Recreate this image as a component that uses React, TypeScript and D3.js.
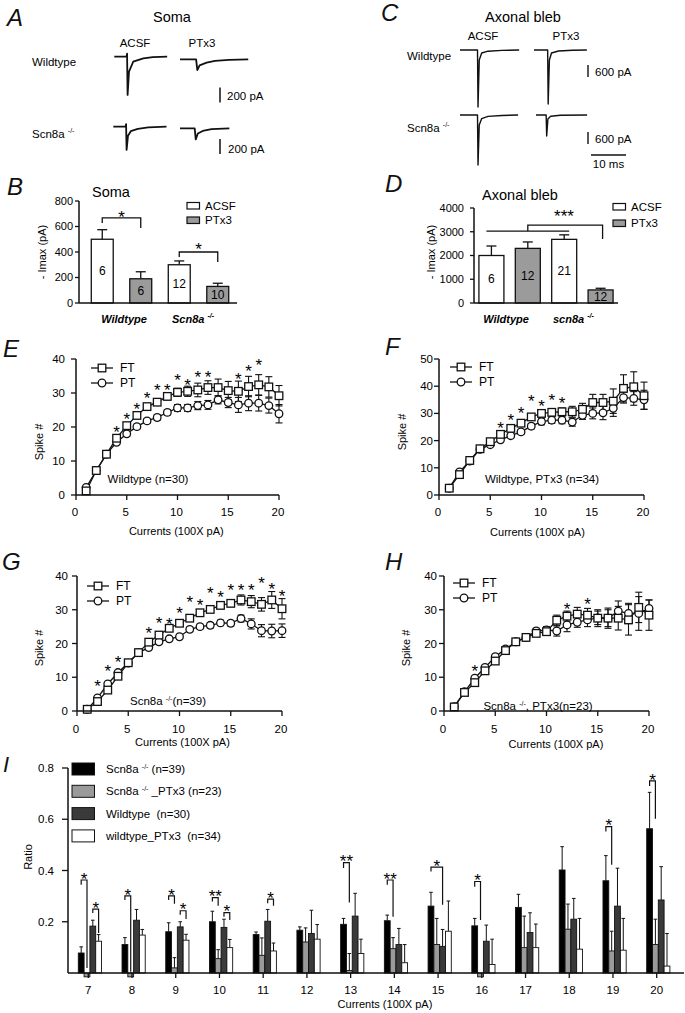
import React from 'react';
import * as d3 from 'd3';

const FONT = '"Liberation Sans", Arial, Helvetica, sans-serif';
const INK = '#111';

type Pt = [number, number];

// ---------- Panel A: somatic Na currents (time ms, current pA) ----------
const somaWtAcsf: Pt[] = [[0, 0], [3.5, 0], [3.65, 40], [3.8, -510], [4.2, -200], [5.4, -67], [8.3, -22], [11, -5], [15.1, 0]];
const somaWtPtx: Pt[] = [[0, 0], [4.6, 0], [4.95, -143], [5.6, -80], [7.6, -45], [10, -20], [14, -8], [19.5, 0]];
const somaKoAcsf: Pt[] = [[0, 0], [3.5, 0], [3.65, 35], [3.8, -310], [4.2, -120], [5, -60], [7, -30], [10, -10], [15.2, 0]];
const somaKoPtx: Pt[] = [[0, 0], [4.2, 0], [4.5, -147], [5.1, -70], [6.5, -35], [9, -12], [14.1, 0]];

// ---------- Panel C: axonal bleb currents ----------
const blebWtAcsf: Pt[] = [[0, 0], [5, 0], [5.15, -2850], [5.5, -500], [6.2, -150], [8, -60], [12, -20], [16.9, 0]];
const blebWtPtx: Pt[] = [[0, 0], [3.9, 0], [4.05, -2700], [4.4, -500], [5, -150], [7, -50], [11, -15], [15.1, 0]];
const blebKoAcsf: Pt[] = [[0, 0], [5, 0], [5.15, -2500], [5.5, -500], [6.2, -180], [8, -70], [12, -25], [16.6, 0]];
const blebKoPtx: Pt[] = [[0, 0], [2.9, 0], [3.05, -1050], [3.4, -200], [4.2, -60], [7, -15], [14.6, 0]];

// ---------- Panels B / D ----------
const barKeys = ['WT-ACSF', 'WT-PTx3', 'KO-ACSF', 'KO-PTx3'];
const barFills = ['#ffffff', '#9b9b9b', '#ffffff', '#9b9b9b'];
const somaImax = [500, 190, 300, 130];
const somaImaxErr = [75, 55, 30, 25];
const somaN = ['6', '6', '12', '10'];
const somaTicks = [0, 200, 400, 600, 800];
const blebImax = [2000, 2300, 2680, 550];
const blebImaxErr = [400, 270, 190, 70];
const blebN = ['6', '12', '21', '12'];
const blebTicks = [0, 1000, 2000, 3000, 4000];

// ---------- Panels E-H ----------
const currentSteps = [1, 2, 3, 4, 5, 6, 7, 8, 9, 10, 11, 12, 13, 14, 15, 16, 17, 18, 19, 20];
const currentTicks = [0, 5, 10, 15, 20];

const eFT = [1.2, 7.2, 12, 16.7, 20.4, 23.4, 26, 27.3, 29, 30.2, 30.5, 30.9, 31.6, 31.6, 30.7, 30.5, 31.9, 32.4, 31.8, 29.2];
const eFTErr = [0.3, 0.5, 0.5, 0.8, 0.8, 0.8, 0.8, 0.9, 1, 1.2, 1.5, 2, 2, 2.5, 2.7, 3, 3, 3, 3, 3];
const ePT = [2.2, 7.2, 12, 15.5, 18, 20.1, 21.8, 22.8, 24.3, 25.6, 25.6, 26.3, 26.5, 28, 27.2, 26.5, 27, 27, 26.3, 23.9];
const ePTErr = [0.3, 0.4, 0.5, 0.6, 0.7, 0.7, 0.7, 0.8, 0.8, 1, 1, 1.2, 1.3, 1.2, 1.5, 2.2, 2.2, 2.3, 2.2, 2.7];
const eStars: Pt[] = [[4, 19.7], [5, 23.4], [6, 26.5], [7, 29.7], [8, 31.9], [9, 31.9], [10, 35], [11, 33.4], [12, 35.9], [13, 35.9], [16, 35.2], [17, 37.6], [18, 39.3]];

const fFT = [2.5, 7.5, 12.7, 17, 19.6, 22.3, 24.5, 26.4, 28.7, 30, 30.4, 30.6, 30.6, 31.5, 34, 34, 34.5, 39.2, 39.8, 36.5];
const fFTErr = [0.4, 0.5, 0.6, 0.7, 0.8, 0.8, 0.9, 1, 1, 1.2, 1.3, 1.4, 2, 2.2, 3, 3, 4.5, 5, 5.5, 5];
const fPT = [2.5, 8.5, 12.5, 16.8, 18.5, 20.3, 21.8, 23.2, 25.3, 27, 27.5, 27.5, 26.8, 29.3, 30, 30.2, 31.9, 35.8, 35.5, 35];
const fPTErr = [0.4, 0.5, 0.6, 0.7, 0.7, 0.8, 0.8, 0.9, 1, 1.2, 1.2, 1.3, 1.5, 1.5, 2, 2.5, 3, 2, 2.5, 3.5];
const fStars: Pt[] = [[6, 26.1], [7, 28.8], [8, 31.5], [9, 35.8], [10, 33.9], [11, 36.4], [12, 35.2]];

const gFT = [0.5, 2.8, 6.2, 10.3, 14.3, 17.3, 20.4, 22.5, 24.5, 26, 27.5, 29.1, 30.1, 31.3, 31.9, 32.9, 32.4, 31.6, 32.9, 30.3];
const gFTErr = [0.2, 0.3, 0.4, 0.5, 0.6, 0.6, 0.7, 0.7, 0.7, 0.8, 0.8, 0.8, 0.9, 1, 1, 1.5, 1.8, 2, 2.5, 3];
const gPT = [0.5, 3.9, 8, 11.4, 14.2, 17.3, 18.8, 20.5, 21.4, 22, 24.2, 25, 25.4, 26.1, 26, 27.4, 25.8, 23.8, 23.7, 23.8];
const gPTErr = [0.2, 0.3, 0.4, 0.5, 0.5, 0.6, 0.6, 0.6, 0.6, 0.7, 0.7, 0.7, 0.8, 0.8, 0.8, 1, 1.5, 1.8, 2, 2];
const gStars: Pt[] = [[2, 8.4], [3, 12.8], [4, 15.6], [7, 24.3], [8, 27.3], [9, 27], [10, 30.2], [11, 33.4], [12, 32.4], [13, 36.1], [14, 34.9], [15, 36.8], [16, 36.8], [17, 36.8], [18, 39.1], [19, 37.3], [20, 35.2]];

const hFT = [1.2, 5.5, 8.4, 11.9, 14.8, 17.9, 20.5, 21.8, 23, 23.5, 26.9, 28.1, 28.7, 28.4, 27.5, 27.5, 27.5, 27, 30.7, 28.4];
const hFTErr = [0.3, 0.4, 0.5, 0.6, 0.7, 0.7, 0.7, 0.7, 0.8, 1, 1.5, 1.5, 2, 2, 2.5, 3, 3.5, 4.5, 4.5, 4.5];
const hPT = [1.3, 5.7, 9.7, 12.9, 16.1, 18.4, 20.5, 21.8, 23.7, 24, 23.7, 25.5, 26.3, 27, 27.6, 27.5, 29.6, 28.9, 28.9, 30.4];
const hPTErr = [0.3, 0.4, 0.5, 0.6, 0.7, 0.7, 0.7, 0.7, 0.8, 1, 1.5, 2, 1.5, 2, 2, 2.5, 3, 3, 5, 2.5];
const hStars: Pt[] = [[3, 12.9], [12, 31.4], [14, 32.9]];

// ---------- Panel I ----------
const ratioCategories = ['7', '8', '9', '10', '11', '12', '13', '14', '15', '16', '17', '18', '19', '20'];
const koRatio = [0.078, 0.111, 0.161, 0.2, 0.15, 0.167, 0.19, 0.204, 0.261, 0.184, 0.256, 0.402, 0.36, 0.563];
const koRatioErr = [0.024, 0.027, 0.035, 0.041, 0.01, 0.013, 0.023, 0.022, 0.054, 0.029, 0.051, 0.091, 0.098, 0.142];
const koPtxRatio = [-0.015, -0.015, 0.02, 0.056, 0.069, 0.121, 0.01, 0.095, 0.111, -0.015, 0.099, 0.171, 0.086, 0.111];
const koPtxRatioErr = [0, 0, 0.04, 0.035, 0.068, 0.055, 0.066, 0.043, 0.102, 0, 0.123, 0.098, 0.077, 0.099];
const wtRatio = [0.183, 0.206, 0.18, 0.178, 0.202, 0.154, 0.222, 0.111, 0.104, 0.124, 0.158, 0.21, 0.261, 0.285];
const wtRatioErr = [0.023, 0.042, 0.02, 0.032, 0.046, 0.091, 0.089, 0.063, 0.066, 0.063, 0.077, 0.081, 0.148, 0.13];
const wtPtxRatio = [0.124, 0.148, 0.128, 0.099, 0.086, 0.132, 0.076, 0.04, 0.163, 0.033, 0.099, 0.093, 0.089, 0.027];
const wtPtxRatioErr = [0.026, 0.022, 0.023, 0.032, 0.031, 0.057, 0.056, 0.071, 0.118, 0.099, 0.092, 0.12, 0.124, 0.127];
const ratioTicks = [0.2, 0.4, 0.6, 0.8];
const ratioFills = ['#000000', '#9a9a9a', '#3a3a3a', '#ffffff'];
const ratioBrackets = [
  { cat: '7', a: 0, b: 1, top: 0.363, left: 0.344, right: 0.02, mark: '*' },
  { cat: '7', a: 2, b: 3, top: 0.249, left: 0.234, right: 0.156, mark: '*' },
  { cat: '8', a: 0, b: 1, top: 0.301, left: 0.285, right: 0.005, mark: '*' },
  { cat: '9', a: 0, b: 1, top: 0.301, left: 0.285, right: 0.27, mark: '*' },
  { cat: '9', a: 2, b: 3, top: 0.243, left: 0.227, right: 0.211, mark: '*' },
  { cat: '10', a: 0, b: 1, top: 0.294, left: 0.279, right: 0.262, mark: '**' },
  { cat: '10', a: 2, b: 3, top: 0.236, left: 0.22, right: 0.207, mark: '*' },
  { cat: '11', a: 2, b: 3, top: 0.288, left: 0.272, right: 0.262, mark: '*' },
  { cat: '13', a: 0, b: 1, top: 0.431, left: 0.41, right: 0.275, mark: '**' },
  { cat: '14', a: 0, b: 1, top: 0.363, left: 0.344, right: 0.22, mark: '**' },
  { cat: '15', a: 0, b: 2, top: 0.413, left: 0.396, right: 0.266, mark: '*' },
  { cat: '16', a: 0, b: 1, top: 0.357, left: 0.337, right: 0.207, mark: '*' },
  { cat: '19', a: 0, b: 1, top: 0.571, left: 0.552, right: 0.422, mark: '*' },
  { cat: '20', a: 0, b: 1, top: 0.75, left: 0.73, right: 0.602, mark: '*' },
];

const STAR_FS = 17;
const starDy = STAR_FS * 0.57;

function Letter({ x, y, t, size = 24 }: { x: number; y: number; t: string; size?: number }) {
  return <text x={x} y={y} fontSize={size} fontStyle="italic" fill={INK}>{t}</text>;
}

function Sup({ t = '-/-', rise = 5, size = 7 }: { t?: string; rise?: number; size?: number }) {
  return <tspan fontSize={size} dy={-rise}>{t}</tspan>;
}

function Trace({ data, x0, y0, pxPerMs, pxPerPa, width }: { data: Pt[]; x0: number; y0: number; pxPerMs: number; pxPerPa: number; width: number }) {
  const xs = d3.scaleLinear().domain([0, 10]).range([x0, x0 + 10 * pxPerMs]);
  const ys = d3.scaleLinear().domain([0, -100]).range([y0, y0 + 100 * pxPerPa]);
  const path = d3.line<Pt>().x(d => xs(d[0])).y(d => ys(d[1]))(data) || '';
  return <path d={path} fill="none" stroke={INK} strokeWidth={width} strokeLinejoin="round" />;
}

function PanelA() {
  const pxPerMs = 3.5, pxPerPa = 0.075;
  const bar = d3.scaleLinear().domain([0, 200]).range([0, 200 * pxPerPa]);
  return (
    <g>
      <Letter x={7} y={26} t="A" />
      <text x={172} y={22} fontSize={14.5} textAnchor="middle">Soma</text>
      <text x={135} y={47} fontSize={11.5} textAnchor="middle">ACSF</text>
      <text x={202} y={47} fontSize={11.5} textAnchor="middle">PTx3</text>
      <text x={32} y={66} fontSize={11.5}>Wildtype</text>
      <text x={32} y={138} fontSize={11.5}>Scn8a <Sup /></text>
      <Trace data={somaWtAcsf} x0={114.3} y0={56.7} pxPerMs={pxPerMs} pxPerPa={pxPerPa} width={1.8} />
      <Trace data={somaWtPtx} x0={180} y0={59.3} pxPerMs={pxPerMs} pxPerPa={pxPerPa} width={1.8} />
      <Trace data={somaKoAcsf} x0={113.3} y0={126.7} pxPerMs={pxPerMs} pxPerPa={pxPerPa} width={1.8} />
      <Trace data={somaKoPtx} x0={180} y0={128.3} pxPerMs={pxPerMs} pxPerPa={pxPerPa} width={1.8} />
      <line x1={220} x2={220} y1={87.5} y2={87.5 + bar(200)} stroke={INK} strokeWidth={1.5} />
      <text x={227} y={100} fontSize={11.5}>200 pA</text>
      <line x1={220} x2={220} y1={139} y2={139 + bar(200)} stroke={INK} strokeWidth={1.5} />
      <text x={228} y={153} fontSize={11.5}>200 pA</text>
    </g>
  );
}

function PanelC() {
  const pxPerMs = 3.5, pxPerPa = 0.02;
  const vbar = d3.scaleLinear().domain([0, 600]).range([0, 600 * pxPerPa]);
  const hbar = d3.scaleLinear().domain([0, 10]).range([591, 591 + 10 * pxPerMs]);
  return (
    <g>
      <Letter x={381} y={21} t="C" />
      <text x={523} y={22} fontSize={14.5} textAnchor="middle">Axonal bleb</text>
      <text x={483} y={40} fontSize={11.5} textAnchor="middle">ACSF</text>
      <text x={566} y={40} fontSize={11.5} textAnchor="middle">PTx3</text>
      <text x={407} y={60} fontSize={11.5}>Wildtype</text>
      <text x={407} y={132} fontSize={11.5}>Scn8a <Sup /></text>
      <Trace data={blebWtAcsf} x0={460} y0={50} pxPerMs={pxPerMs} pxPerPa={pxPerPa} width={1.4} />
      <Trace data={blebWtPtx} x0={534} y0={50} pxPerMs={pxPerMs} pxPerPa={pxPerPa} width={1.4} />
      <Trace data={blebKoAcsf} x0={460} y0={115} pxPerMs={pxPerMs} pxPerPa={pxPerPa} width={1.4} />
      <Trace data={blebKoPtx} x0={536} y0={115} pxPerMs={pxPerMs} pxPerPa={pxPerPa} width={1.4} />
      <line x1={588} x2={588} y1={65} y2={65 + vbar(600)} stroke={INK} strokeWidth={1.4} />
      <text x={595} y={76} fontSize={11.5}>600 pA</text>
      <line x1={588} x2={588} y1={132} y2={132 + vbar(600)} stroke={INK} strokeWidth={1.4} />
      <text x={595} y={143} fontSize={11.5}>600 pA</text>
      <line x1={hbar(0)} x2={hbar(10)} y1={155} y2={155} stroke={INK} strokeWidth={1.3} />
      <text x={(hbar(0) + hbar(10)) / 2} y={168} fontSize={11.5} textAnchor="middle">10 ms</text>
    </g>
  );
}

type BarPanelProps = {
  axisX0: number; axisX1: number; range: [number, number]; inner: number; outer: number;
  yBottom: number; yTop: number; yMax: number; ticks: number[]; tickRight: number;
  values: number[]; errs: number[]; ns: string[];
  extras: (x: d3.ScaleBand<string>, y: d3.ScaleLinear<number, number>) => React.ReactNode;
};

function BarPanel(p: BarPanelProps) {
  const x = d3.scaleBand<string>().domain(barKeys).range(p.range).paddingInner(p.inner).paddingOuter(p.outer);
  const y = d3.scaleLinear().domain([0, p.yMax]).range([p.yBottom, p.yTop]);
  const bw = x.bandwidth();
  return (
    <g>
      {barKeys.map((k, i) => {
        const bx = x(k)!;
        const top = y(p.values[i]);
        const et = y(p.values[i] + p.errs[i]);
        const cx = bx + bw / 2;
        return (
          <g key={k}>
            <line x1={cx} x2={cx} y1={top} y2={et} stroke={INK} strokeWidth={1.3} />
            <line x1={cx - 5} x2={cx + 5} y1={et} y2={et} stroke={INK} strokeWidth={1.3} />
            <rect x={bx} y={top} width={bw} height={p.yBottom - top} fill={barFills[i]} stroke={INK} strokeWidth={1.3} />
            <text x={cx} y={(top + p.yBottom) / 2} dy="0.35em" fontSize={12} textAnchor="middle">{p.ns[i]}</text>
          </g>
        );
      })}
      <line x1={p.axisX0} x2={p.axisX0} y1={p.yBottom} y2={p.yTop} stroke={INK} strokeWidth={1.5} />
      <line x1={p.axisX0} x2={p.axisX1} y1={p.yBottom} y2={p.yBottom} stroke={INK} strokeWidth={1.5} />
      {p.ticks.map(t => (
        <g key={t}>
          <line x1={p.axisX0 - 4} x2={p.axisX0} y1={y(t)} y2={y(t)} stroke={INK} strokeWidth={1.3} />
          <text x={p.tickRight} y={y(t)} dy="0.35em" fontSize={11} textAnchor="end">{t}</text>
        </g>
      ))}
      {p.extras(x, y)}
    </g>
  );
}

function Legend2({ x, y1, y2 }: { x: number; y1: number; y2: number }) {
  return (
    <g fontSize={11.5}>
      <rect x={x} y={y1 - 3} width={12.5} height={6.5} fill="#fff" stroke={INK} strokeWidth={1.2} />
      <text x={x + 18} y={y1} dy="0.35em">ACSF</text>
      <rect x={x} y={y2 - 3} width={12.5} height={6.5} fill="#9b9b9b" stroke={INK} strokeWidth={1.2} />
      <text x={x + 18} y={y2} dy="0.35em">PTx3</text>
    </g>
  );
}

function PanelB() {
  return (
    <g>
      <Letter x={7} y={195} t="B" />
      <text x={111} y={197} fontSize={14.5} textAnchor="middle">Soma</text>
      <text transform="translate(46,252) rotate(-90)" fontSize={11} textAnchor="middle">- Imax (pA)</text>
      <BarPanel axisX0={79} axisX1={237} range={[81, 239]} inner={0.43} outer={0.267}
        yBottom={303} yTop={201} yMax={800} ticks={somaTicks} tickRight={73}
        values={somaImax} errs={somaImaxErr} ns={somaN}
        extras={(x, y) => {
          const c = (i: number) => x(barKeys[i])! + x.bandwidth() / 2;
          return (
            <g>
              <path d={`M${c(0)},${y(627)}V${y(667)}H${c(1)}V${y(588)}`} fill="none" stroke={INK} strokeWidth={1.3} />
              <text x={(c(0) + c(1)) / 2} y={y(706) + starDy} fontSize={STAR_FS} textAnchor="middle">*</text>
              <path d={`M${c(2)},${y(361)}V${y(400)}H${c(3)}V${y(322)}`} fill="none" stroke={INK} strokeWidth={1.3} />
              <text x={(c(2) + c(3)) / 2} y={y(455) + starDy} fontSize={STAR_FS} textAnchor="middle">*</text>
            </g>
          );
        }} />
      <Legend2 x={187} y1={205.5} y2={220} />
      <text x={124} y={323} fontSize={11} fontWeight="bold" fontStyle="italic" textAnchor="middle">Wildtype</text>
      <text x={172} y={323} fontSize={11} fontWeight="bold" fontStyle="italic">Scn8a <Sup /></text>
    </g>
  );
}

function PanelD() {
  return (
    <g>
      <Letter x={385} y={192} t="D" />
      <text x={520} y={200} fontSize={14.5} textAnchor="middle">Axonal bleb</text>
      <text transform="translate(435,252) rotate(-90)" fontSize={11} textAnchor="middle">- Imax (pA)</text>
      <BarPanel axisX0={474} axisX1={618} range={[474, 618]} inner={0.313} outer={0.135}
        yBottom={303} yTop={208} yMax={4000} ticks={blebTicks} tickRight={464}
        values={blebImax} errs={blebImaxErr} ns={blebN}
        extras={(x, y) => {
          const c = (i: number) => x(barKeys[i])! + x.bandwidth() / 2;
          return (
            <g>
              <line x1={c(0) - 5} x2={c(2) + 5} y1={y(3030)} y2={y(3030)} stroke={INK} strokeWidth={1.3} />
              <path d={`M${c(1)},${y(3030)}V${y(3280)}H${c(3) + 2}V${y(2700)}`} fill="none" stroke={INK} strokeWidth={1.3} />
              <text x={564} y={y(3830) + starDy} fontSize={STAR_FS} textAnchor="middle">***</text>
            </g>
          );
        }} />
      <Legend2 x={613} y1={206.5} y2={223} />
      <text x={506} y={323} fontSize={11} fontWeight="bold" fontStyle="italic" textAnchor="middle">Wildtype</text>
      <text x={553} y={323} fontSize={11} fontWeight="bold" fontStyle="italic">scn8a <Sup /></text>
    </g>
  );
}

type LineProps = {
  letter: string; letterX: number; letterY: number;
  x0: number; x1: number; yBottom: number; yTop: number; yMax: number; yTicks: number[];
  labelGap: number; xTickY: number; xTitleX: number; xTitleY: number; yTitleX: number; yTitleY: number;
  legendX: number; legendY1: number; legendY2: number;
  ft: number[]; ftErr: number[]; pt: number[]; ptErr: number[]; stars: Pt[];
  note: React.ReactNode; noteX: number; noteY: number;
};

function Square({ cx, cy }: { cx: number; cy: number }) {
  return <rect x={cx - 3.8} y={cy - 3.8} width={7.6} height={7.6} fill="#fff" stroke={INK} strokeWidth={1.3} />;
}
function Circle({ cx, cy }: { cx: number; cy: number }) {
  return <circle cx={cx} cy={cy} r={3.8} fill="#fff" stroke={INK} strokeWidth={1.3} />;
}

function LinePanel(p: LineProps) {
  const x = d3.scaleLinear().domain([0, 20]).range([p.x0, p.x1]);
  const y = d3.scaleLinear().domain([0, p.yMax]).range([p.yBottom, p.yTop]);
  const line = d3.line<number>().x((_, i) => x(currentSteps[i])).y(v => y(v));
  const errs = (vals: number[], es: number[], key: string) => vals.map((v, i) => {
    const cx = x(currentSteps[i]);
    const a = y(v - es[i]), b = y(v + es[i]);
    return (
      <g key={key + i} stroke={INK} strokeWidth={1.1}>
        <line x1={cx} x2={cx} y1={a} y2={b} />
        <line x1={cx - 3.5} x2={cx + 3.5} y1={a} y2={a} />
        <line x1={cx - 3.5} x2={cx + 3.5} y1={b} y2={b} />
      </g>
    );
  });
  return (
    <g>
      <Letter x={p.letterX} y={p.letterY} t={p.letter} />
      {errs(p.pt, p.ptErr, 'pe')}
      {errs(p.ft, p.ftErr, 'fe')}
      <path d={line(p.pt) || ''} fill="none" stroke={INK} strokeWidth={1.3} />
      <path d={line(p.ft) || ''} fill="none" stroke={INK} strokeWidth={1.3} />
      {p.pt.map((v, i) => <Circle key={'pc' + i} cx={x(currentSteps[i])} cy={y(v)} />)}
      {p.ft.map((v, i) => <Square key={'fs' + i} cx={x(currentSteps[i])} cy={y(v)} />)}
      {p.stars.map(([sx, sv], i) => (
        <text key={'st' + i} x={x(sx)} y={y(sv) + starDy} fontSize={STAR_FS} textAnchor="middle">*</text>
      ))}
      <line x1={p.x0} x2={p.x0} y1={p.yBottom} y2={p.yTop} stroke={INK} strokeWidth={1.5} />
      <line x1={p.x0} x2={p.x1} y1={p.yBottom} y2={p.yBottom} stroke={INK} strokeWidth={1.5} />
      {p.yTicks.map(t => (
        <g key={'yt' + t}>
          <line x1={p.x0 - 5} x2={p.x0} y1={y(t)} y2={y(t)} stroke={INK} strokeWidth={1.3} />
          <text x={p.x0 - p.labelGap} y={y(t)} dy="0.35em" fontSize={11.5} textAnchor="end">{t}</text>
        </g>
      ))}
      {currentTicks.map(t => (
        <g key={'xt' + t}>
          <line x1={x(t)} x2={x(t)} y1={p.yBottom} y2={p.yBottom + 5} stroke={INK} strokeWidth={1.3} />
          <text x={x(t) - 1} y={p.xTickY} dy="0.35em" fontSize={11.5} textAnchor="middle">{t}</text>
        </g>
      ))}
      <text x={p.xTitleX} y={p.xTitleY} dy="0.35em" fontSize={11} textAnchor="middle">Currents (100X pA)</text>
      <text transform={`translate(${p.yTitleX},${p.yTitleY}) rotate(-90)`} dy="0.35em" fontSize={11} textAnchor="middle">Spike #</text>
      <g>
        <line x1={p.legendX} x2={p.legendX + 22} y1={p.legendY1} y2={p.legendY1} stroke={INK} strokeWidth={1.3} />
        <Square cx={p.legendX + 11} cy={p.legendY1} />
        <text x={p.legendX + 29} y={p.legendY1} dy="0.35em" fontSize={12}>FT</text>
        <line x1={p.legendX} x2={p.legendX + 22} y1={p.legendY2} y2={p.legendY2} stroke={INK} strokeWidth={1.3} />
        <Circle cx={p.legendX + 11} cy={p.legendY2} />
        <text x={p.legendX + 29} y={p.legendY2} dy="0.35em" fontSize={12}>PT</text>
      </g>
      <text x={p.noteX} y={p.noteY + 4} fontSize={11.5} textAnchor="middle">{p.note}</text>
    </g>
  );
}

function PanelI() {
  const xp = d3.scalePoint<string>().domain(ratioCategories).range([88.3, 656.7]);
  const sub = d3.scaleBand<number>().domain([0, 1, 2, 3]).range([-10, 13.2]);
  const y = d3.scaleLinear().domain([0, 0.8]).range([973, 768]);
  const series = [koRatio, koPtxRatio, wtRatio, wtPtxRatio];
  const seriesErr = [koRatioErr, koPtxRatioErr, wtRatioErr, wtPtxRatioErr];
  const bw = sub.bandwidth();
  const barCx = (cat: string, s: number) => xp(cat)! + sub(s)! + bw / 2;
  const legendLabels = [
    <>Scn8a <Sup rise={4} /><tspan dy={4}> (n=39)</tspan></>,
    <>Scn8a <Sup rise={4} /><tspan dy={4}> _PTx3 (n=23)</tspan></>,
    <>Wildtype{'\u00a0\u00a0'}(n=30)</>,
    <>wildtype_PTx3{'\u00a0\u00a0'}(n=34)</>,
  ];
  return (
    <g>
      <Letter x={3} y={772} t="I" size={22} />
      {ratioCategories.map((cat, ci) => (
        <g key={cat}>
          {series.map((vals, s) => {
            const v = vals[ci];
            const e = seriesErr[s][ci];
            const bx = xp(cat)! + sub(s)!;
            const cx = bx + bw / 2;
            const yt = y(Math.max(v, 0));
            const yb = y(Math.min(v, 0));
            return (
              <g key={s}>
                {e > 0 && (
                  <g stroke={INK} strokeWidth={1}>
                    <line x1={cx} x2={cx} y1={y(v)} y2={y(v + e)} />
                    <line x1={cx - 1.8} x2={cx + 1.8} y1={y(v + e)} y2={y(v + e)} />
                  </g>
                )}
                <rect x={bx} y={yt} width={bw} height={yb - yt} fill={ratioFills[s]} stroke={INK} strokeWidth={0.9} />
              </g>
            );
          })}
        </g>
      ))}
      {ratioBrackets.map((b, i) => {
        const xa = barCx(b.cat, b.a), xb = barCx(b.cat, b.b);
        return (
          <g key={'br' + i}>
            <path d={`M${xa},${y(b.left)}V${y(b.top)}H${xb}V${y(b.right)}`} fill="none" stroke={INK} strokeWidth={1.2} />
            <text x={(xa + xb) / 2} y={y(b.top) - 5 + starDy} fontSize={STAR_FS} textAnchor="middle">{b.mark}</text>
          </g>
        );
      })}
      <line x1={68} x2={68} y1={973} y2={768} stroke={INK} strokeWidth={1.5} />
      <line x1={68} x2={684} y1={973} y2={973} stroke={INK} strokeWidth={1.5} />
      {ratioTicks.map(t => (
        <g key={'ry' + t}>
          <line x1={62} x2={68} y1={y(t)} y2={y(t)} stroke={INK} strokeWidth={1.3} />
          <text x={54} y={y(t)} dy="0.35em" fontSize={11.5} textAnchor="end">{t.toFixed(1)}</text>
        </g>
      ))}
      {ratioCategories.map(cat => (
        <g key={'rx' + cat}>
          <line x1={xp(cat)} x2={xp(cat)} y1={973} y2={978} stroke={INK} strokeWidth={1.3} />
          <text x={xp(cat)} y={990} dy="0.35em" fontSize={11.5} textAnchor="middle">{cat}</text>
        </g>
      ))}
      <text x={385} y={1004} dy="0.35em" fontSize={11} textAnchor="middle">Currents (100X pA)</text>
      <text transform="translate(28,857) rotate(-90)" dy="0.35em" fontSize={11} textAnchor="middle">Ratio</text>
      {legendLabels.map((lab, k) => (
        <g key={'lg' + k}>
          <rect x={72} y={763 + 22.3 * k} width={22.5} height={12} fill={ratioFills[k]} stroke={INK} strokeWidth={1} />
          <text x={106} y={769 + 22.3 * k} dy="0.35em" fontSize={11.5}>{lab}</text>
        </g>
      ))}
    </g>
  );
}

export default function App() {
  return (
    <svg width={685} height={1013} viewBox="0 0 685 1013" fontFamily={FONT}
      style={{ position: 'absolute', left: 0, top: 0, background: '#fff' }}>
      <rect width={685} height={1013} fill="#fff" />
      <PanelA />
      <PanelC />
      <PanelB />
      <PanelD />
      <LinePanel letter="E" letterX={3} letterY={357} x0={76} x1={279} yBottom={495} yTop={359} yMax={40}
        yTicks={[0, 10, 20, 30, 40]} labelGap={11} xTickY={512.3} xTitleX={176.3} xTitleY={531}
        yTitleX={39} yTitleY={442} legendX={91} legendY1={368} legendY2={383}
        ft={eFT} ftErr={eFTErr} pt={ePT} ptErr={ePTErr} stars={eStars}
        note={<>Wildtype (n=30)</>} noteX={148} noteY={479} />
      <LinePanel letter="F" letterX={385} letterY={355} x0={439} x1={644} yBottom={495} yTop={359} yMax={50}
        yTicks={[0, 10, 20, 30, 40, 50]} labelGap={6} xTickY={512.3} xTitleX={537.5} xTitleY={532.3}
        yTitleX={402} yTitleY={432} legendX={450} legendY1={367} legendY2={382}
        ft={fFT} ftErr={fFTErr} pt={fPT} ptErr={fPTErr} stars={fStars}
        note={<>Wildtype, PTx3 (n=34)</>} noteX={542} noteY={479} />
      <LinePanel letter="G" letterX={2} letterY={570} x0={77} x1={282} yBottom={711} yTop={576} yMax={40}
        yTicks={[0, 10, 20, 30, 40]} labelGap={9} xTickY={729.3} xTitleX={182.5} xTitleY={742.3}
        yTitleX={39} yTitleY={648} legendX={87} legendY1={586} legendY2={601}
        ft={gFT} ftErr={gFTErr} pt={gPT} ptErr={gPTErr} stars={gStars}
        note={<>Scn8a <Sup rise={4} /><tspan dy={4}>(n=39)</tspan></>} noteX={168} noteY={701} />
      <LinePanel letter="H" letterX={385} letterY={570} x0={444} x1={649} yBottom={711} yTop={576} yMax={40}
        yTicks={[0, 10, 20, 30, 40]} labelGap={7} xTickY={729.3} xTitleX={556} xTitleY={744.3}
        yTitleX={406} yTitleY={648} legendX={453} legendY1={583} legendY2={598}
        ft={hFT} ftErr={hFTErr} pt={hPT} ptErr={hPTErr} stars={hStars}
        note={<>Scn8a <Sup rise={4} /><tspan dy={4}>, PTx3(n=23)</tspan></>} noteX={538} noteY={706} />
      <PanelI />
    </svg>
  );
}
